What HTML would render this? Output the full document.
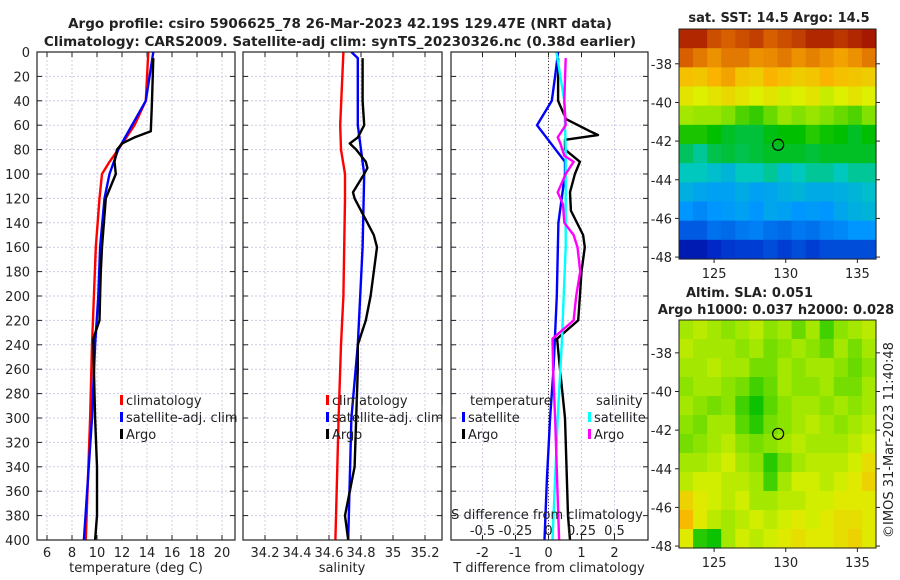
<!DOCTYPE html>
<html><head><meta charset="utf-8"><style>
body{margin:0;background:#fff;width:900px;height:580px;overflow:hidden}
svg{display:block;font-family:"DejaVu Sans","Liberation Sans",sans-serif}
</style></head><body>
<svg id="s" width="900" height="580"></svg>
<script>
// ---------- data ----------
const tClimDepth=[0,40,60,80,90,100,120,160,200,240,300,400];
const tClimVal=[14.1,13.9,13.0,11.7,11.0,10.4,10.2,9.9,9.75,9.6,9.45,9.1];
const tSatDepth=[0,40,60,80,100,120,160,200,240,300,400];
const tSatVal=[14.5,13.9,12.8,11.7,11.0,10.6,10.25,10.1,9.85,9.6,8.95];
const tArgoDepth=[5,40,65,70,75,80,90,100,115,120,140,160,180,200,220,235,260,300,340,380,400];
const tArgoVal=[14.5,14.4,14.3,13.0,12.0,11.6,11.4,11.5,10.9,10.7,10.55,10.4,10.3,10.25,10.2,9.7,9.75,9.85,10.0,10.0,9.85];
const sClimDepth=[0,60,80,100,120,200,240,300,400];
const sClimVal=[34.69,34.67,34.675,34.70,34.70,34.69,34.675,34.66,34.64];
const sSatDepth=[0,5,60,80,100,160,240,300,400];
const sSatVal=[34.74,34.78,34.78,34.80,34.82,34.81,34.78,34.74,34.72];
const sArgoDepth=[5,40,60,70,75,80,90,95,100,115,120,140,150,160,180,200,220,240,260,300,340,380,400];
const sArgoVal=[34.81,34.81,34.82,34.78,34.73,34.77,34.83,34.84,34.82,34.75,34.76,34.84,34.88,34.9,34.88,34.86,34.83,34.78,34.78,34.77,34.76,34.7,34.72];
const dTSatDepth=[0,20,40,60,90,100,140,200,260,300,350,400];
const dTSatVal=[0.29,0.2,0.1,-0.35,0.5,0.5,0.3,0.25,0.15,0.05,-0.05,-0.12];
const dTArgoDepth=[5,40,55,65,68,72,80,90,100,115,130,150,160,180,200,220,235,260,300,380,400];
const dTArgoVal=[0.29,0.29,0.53,1.26,1.5,0.5,0.5,0.95,0.8,0.65,0.68,1.05,1.1,1.0,0.95,0.9,0.26,0.35,0.5,0.59,0.65];
const dSSatDepth=[0,40,80,160,240,300,400];
const dSSatVal=[0.06,0.12,0.13,0.13,0.1,0.07,0.03];
const dSArgoDepth=[5,40,60,70,75,85,90,100,115,125,140,150,160,180,200,220,235,260,300,400];
const dSArgoVal=[0.13,0.12,0.13,0.07,0.09,0.12,0.19,0.13,0.07,0.11,0.12,0.19,0.22,0.24,0.21,0.19,0.03,0.035,0.05,0.08];
const depthTicks=[0,20,40,60,80,100,120,140,160,180,200,220,240,260,280,300,320,340,360,380,400];
const tTicks=[6,8,10,12,14,16,18,20];
const sTicks=[34.2,34.4,34.6,34.8,35,35.2];
const dTTicks=[-2,-1,0,1,2];
const dSTicks=[-0.5,-0.25,0,0.25,0.5];
const latTicks=[-38,-40,-42,-44,-46,-48];
const lonTicks=[125,130,135];
const sstGrid=[
[.95,.95,.9,.88,.9,.92,.88,.9,.92,.95,.95,.93,.95,.97],
[.88,.85,.82,.85,.85,.82,.83,.85,.82,.84,.82,.8,.82,.85],
[.76,.75,.78,.8,.75,.74,.78,.76,.74,.75,.78,.76,.75,.74],
[.7,.68,.7,.72,.7,.68,.7,.67,.68,.7,.66,.68,.7,.68],
[.63,.62,.62,.6,.56,.54,.58,.62,.6,.62,.6,.58,.56,.6],
[.52,.52,.5,.48,.47,.47,.49,.5,.5,.53,.51,.5,.48,.5],
[.45,.42,.46,.47,.46,.47,.48,.48,.48,.47,.48,.48,.48,.48],
[.4,.4,.38,.36,.4,.4,.42,.38,.4,.42,.42,.4,.42,.42],
[.35,.33,.32,.32,.34,.32,.33,.35,.36,.34,.34,.35,.36,.38],
[.3,.28,.3,.31,.32,.3,.33,.32,.3,.31,.3,.33,.35,.36],
[.22,.22,.25,.24,.26,.27,.25,.24,.26,.25,.27,.28,.3,.3],
[.1,.1,.15,.17,.18,.18,.2,.18,.2,.18,.2,.2,.2,.2]];
const slaGrid=[
[.63,.65,.63,.61,.63,.65,.61,.63,.58,.63,.55,.61,.63,.65],
[.65,.63,.63,.63,.61,.63,.59,.61,.63,.61,.58,.63,.59,.63],
[.63,.63,.65,.63,.63,.59,.59,.63,.61,.63,.63,.61,.58,.61],
[.61,.63,.63,.61,.59,.55,.58,.63,.61,.61,.63,.59,.59,.63],
[.63,.61,.59,.61,.55,.51,.57,.61,.63,.63,.61,.63,.61,.63],
[.61,.59,.63,.63,.57,.53,.59,.61,.63,.65,.63,.61,.63,.65],
[.59,.61,.63,.65,.61,.59,.61,.63,.65,.63,.63,.63,.65,.67],
[.63,.63,.65,.67,.63,.61,.53,.59,.63,.65,.65,.65,.67,.71],
[.65,.67,.67,.65,.65,.63,.55,.63,.67,.67,.65,.67,.69,.73],
[.73,.69,.67,.65,.67,.63,.63,.65,.65,.67,.67,.69,.69,.69],
[.77,.69,.65,.63,.65,.67,.65,.67,.69,.67,.69,.71,.71,.69],
[.69,.53,.51,.63,.67,.65,.67,.69,.71,.69,.69,.71,.73,.69]];
const argoLon=129.47, argoLat=-42.19;

// ---------- helpers ----------
const NS="http://www.w3.org/2000/svg", S=document.getElementById('s');
function el(t,a,p){const e=document.createElementNS(NS,t);for(const k in a)e.setAttribute(k,a[k]);(p||S).appendChild(e);return e;}
function txt(x,y,s,a){const e=el('text',Object.assign({x:x,y:y,'font-size':13,fill:'#222'},a||{}));e.textContent=s;return e;}
const Y0=52,Y1=540;
const yD=d=>Y0+(d/400)*(Y1-Y0);
function lin(d0,d1,r0,r1){return v=>r0+(v-d0)/(d1-d0)*(r1-r0);}
const P=[{x0:37,x1:235},{x0:243,x1:442},{x0:451,x1:648}];
const xT=lin(6,20,47,222), xS=lin(34.2,35.2,265,425), xDT=lin(0,2,548.5,614.5), xDS=lin(0,0.5,548.5,614.5);

function panel(i,ticks,fx,name){
  const p=P[i];
  const g=el('g',{});
  
  
  depthTicks.forEach(d=>{if(d>0&&d<400)el('line',{x1:p.x0,x2:p.x1,y1:yD(d),y2:yD(d),stroke:'#c9cbe8','stroke-dasharray':'2,2','stroke-width':1},g);
    el('line',{x1:p.x0,x2:p.x0+5,y1:yD(d),y2:yD(d),stroke:'#222'},g);el('line',{x1:p.x1-5,x2:p.x1,y1:yD(d),y2:yD(d),stroke:'#222'},g);});
  ticks.forEach(t=>{const x=fx(t);el('line',{x1:x,x2:x,y1:Y0,y2:Y1,stroke:'#d9c8e0','stroke-dasharray':'2,2'},g);
    el('line',{x1:x,x2:x,y1:Y1-5,y2:Y1,stroke:'#222'},g);el('line',{x1:x,x2:x,y1:Y0,y2:Y0+5,stroke:'#222'},g);});
  return g;
}
function frame(i){const p=P[i];el('rect',{x:p.x0,y:Y0,width:p.x1-p.x0,height:Y1-Y0,fill:'none',stroke:'#222','stroke-width':1.2});}
function clipFor(i){const p=P[i];const c=el('clipPath',{id:'c'+i});el('rect',{x:p.x0,y:Y0,width:p.x1-p.x0,height:Y1-Y0},c);}
function line(i,ds,vs,fx,col,name){
  const pts=ds.map((d,k)=>fx(vs[k]).toFixed(1)+','+yD(d).toFixed(1)).join(' ');
  const e=el('polyline',{points:pts,fill:'none',stroke:col,'stroke-width':2.4,'stroke-linejoin':'round','clip-path':'url(#c'+i+')'});
  
  
}
function legend(x,y,col,label,name){
  el('rect',{x:x,y:y-10,width:3,height:10,fill:col});
  const t=txt(x+6,y,label);
  
  
}
[0,1,2].forEach(clipFor);

// panel 1
panel(0,tTicks,xT,'temperature-panel');
line(0,tClimDepth,tClimVal,xT,'#f00','temp-climatology-line');
line(0,tSatDepth,tSatVal,xT,'#00f','temp-satellite-line');
line(0,tArgoDepth,tArgoVal,xT,'#000','temp-argo-line');
frame(0);
depthTicks.forEach(d=>txt(30,yD(d)+5,String(d),{'text-anchor':'end'}));
tTicks.forEach(t=>txt(xT(t),557,String(t),{'text-anchor':'middle'}));
txt(136,572,'temperature (deg C)',{'text-anchor':'middle'});
legend(120,405,'#f00','climatology','legend-climatology');
legend(120,422,'#00f','satellite-adj. clim','legend-satellite');
legend(120,439,'#000','Argo','legend-argo');

// panel 2
panel(1,sTicks,xS,'salinity-panel');
line(1,sClimDepth,sClimVal,xS,'#f00','sal-climatology-line');
line(1,sSatDepth,sSatVal,xS,'#00f','sal-satellite-line');
line(1,sArgoDepth,sArgoVal,xS,'#000','sal-argo-line');
frame(1);
sTicks.forEach(t=>txt(xS(t),557,String(t),{'text-anchor':'middle'}));
txt(342,572,'salinity',{'text-anchor':'middle'});
legend(326,405,'#f00','climatology','legend-climatology-2');
legend(326,422,'#00f','satellite-adj. clim','legend-satellite-2');
legend(326,439,'#000','Argo','legend-argo-2');
el('rect',{x:442.6,y:405,width:8,height:40,fill:'#fff'});

// panel 3
panel(2,dTTicks,xDT,'difference-panel');
el('line',{x1:xDT(0),x2:xDT(0),y1:Y0,y2:Y1,stroke:'#444','stroke-dasharray':'1,2'});
line(2,dTSatDepth,dTSatVal,xDT,'#00f','tdiff-satellite-line');
line(2,dTArgoDepth,dTArgoVal,xDT,'#000','tdiff-argo-line');
line(2,dSSatDepth,dSSatVal,xDS,'#0ff','sdiff-satellite-line');
line(2,dSArgoDepth,dSArgoVal,xDS,'#f0f','sdiff-argo-line');
frame(2);
dTTicks.forEach(t=>txt(xDT(t),557,String(t),{'text-anchor':'middle'}));
txt(549,572,'T difference from climatology',{'text-anchor':'middle'});
txt(547,519,'S difference from climatology',{'text-anchor':'middle'});
dSTicks.forEach(t=>txt(xDS(t),535,String(t),{'text-anchor':'middle'}));
txt(470,405,'temperature');txt(596,405,'salinity');
legend(462,422,'#00f','satellite','legend-tdiff-satellite');
legend(462,439,'#000','Argo','legend-tdiff-argo');
legend(588,422,'#0ff','satellite','legend-sdiff-satellite');
legend(588,439,'#f0f','Argo','legend-sdiff-argo');

// titles
const t1=txt(340,28,'Argo profile: csiro 5906625_78 26-Mar-2023 42.19S 129.47E (NRT data)',{'text-anchor':'middle','font-weight':'bold','font-size':13.5});

txt(340,46,'Climatology: CARS2009. Satellite-adj clim: synTS_20230326.nc (0.38d earlier)',{'text-anchor':'middle','font-weight':'bold','font-size':13.5});

// ---------- maps ----------
const stops=[[0,[0,0,130]],[.15,[0,40,200]],[.3,[0,150,255]],[.4,[0,200,190]],[.5,[0,190,0]],[.6,[130,225,0]],[.68,[220,240,0]],[.78,[250,180,0]],[.88,[215,95,0]],[1,[150,0,0]]];
function cmap(v){for(let i=1;i<stops.length;i++){if(v<=stops[i][0]){const a=stops[i-1],b=stops[i],f=(v-a[0])/(b[0]-a[0]);return 'rgb('+a[1].map((c,k)=>Math.round(c+(b[1][k]-c)*f)).join(',')+')';}}return 'rgb(150,0,0)';}
function map(top,bot,latTop,latBot,grid,name){
  const X0=679,X1=876;
  const xL=lin(122.55,136.3,X0,X1), yL=lin(latTop,latBot,top,bot);
  const g=el('g',{});
  
  
  const R=grid.length,C=grid[0].length,cw=(X1-X0)/C,ch=(bot-top)/R;
  grid.forEach((row,r)=>row.forEach((v,c)=>{el('rect',{x:X0+c*cw,y:top+r*ch,width:cw+0.6,height:ch+0.6,fill:cmap(v)},g);}));
  el('rect',{x:X0,y:top,width:X1-X0,height:bot-top,fill:'none',stroke:'#222'},g);
  latTicks.forEach(l=>{const y=yL(l);txt(672,y+5,String(l),{'text-anchor':'end'});el('line',{x1:X0,x2:X0-4,y1:y,y2:y,stroke:'#222'},g);el('line',{x1:X1,x2:X1+4,y1:y,y2:y,stroke:'#222'},g);});
  lonTicks.forEach(l=>{const x=xL(l);txt(x,bot+19,String(l),{'text-anchor':'middle'});el('line',{x1:x,x2:x,y1:bot,y2:bot+4,stroke:'#222'},g);});
  const c=el('circle',{cx:xL(argoLon),cy:yL(argoLat),r:5.5,fill:'none',stroke:'#000','stroke-width':1.2},g);
  
  
}
map(29,259,-36.2,-48.1,sstGrid,'sst-map');
txt(779,22,'sat. SST: 14.5 Argo: 14.5',{'text-anchor':'middle','font-weight':'bold'});
map(320,548,-36.3,-48.1,slaGrid,'sla-map');
txt(686,297,'Altim. SLA: 0.051',{'font-weight':'bold'});
txt(776,314,'Argo h1000: 0.037 h2000: 0.028',{'text-anchor':'middle','font-weight':'bold'});
txt(0,0,'©IMOS 31-Mar-2023 11:40:48',{transform:'translate(893,440) rotate(-90)','text-anchor':'middle'});
</script>
</body></html>
